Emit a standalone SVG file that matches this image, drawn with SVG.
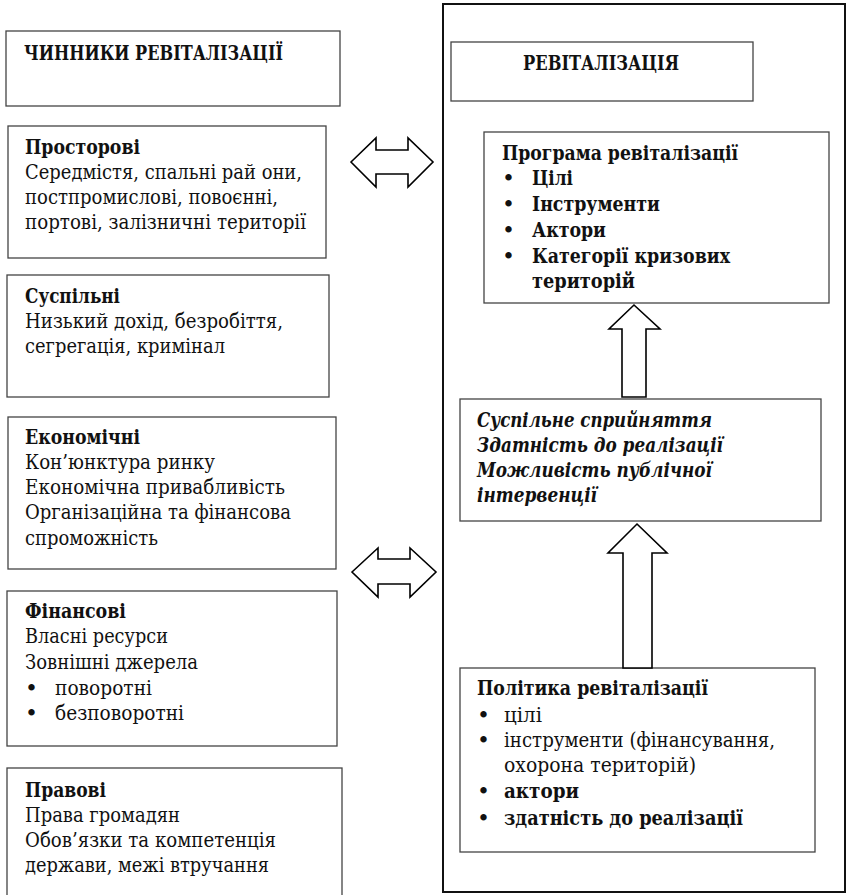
<svg xmlns="http://www.w3.org/2000/svg" width="847" height="895" viewBox="0 0 847 895">
<style>
.box{fill:#fff;stroke:#444;stroke-width:1.3}
.outer{fill:none;stroke:#111;stroke-width:2}
.arr{fill:#fff;stroke:#000;stroke-width:1.6;stroke-linejoin:miter}
text{font-family:"DejaVu Serif","Liberation Serif",serif;font-size:20px;fill:#111}
.b{font-weight:bold}
.bi{font-weight:bold;font-style:italic}
.bul{font-size:22px}
</style>
<rect width="847" height="895" fill="#fff"/>
<g id="revitalization-frame"><rect class="outer" x="443" y="4" width="402" height="888"/></g>
<g id="factors-title"><rect class="box" x="6" y="31" width="334" height="75"/>
<text class="b" x="24" y="60" textLength="259" lengthAdjust="spacingAndGlyphs">ЧИННИКИ РЕВІТАЛІЗАЦІЇ</text></g>
<g id="spatial"><rect class="box" x="8" y="126" width="318" height="132"/>
<text class="b" x="25" y="154" textLength="115" lengthAdjust="spacingAndGlyphs">Просторові</text>
<text x="25" y="179" textLength="277" lengthAdjust="spacingAndGlyphs">Середмістя, спальні рай они,</text>
<text x="25" y="204" textLength="253" lengthAdjust="spacingAndGlyphs">постпромислові, повоєнні,</text>
<text x="25" y="229" textLength="281" lengthAdjust="spacingAndGlyphs">портові, залізничні території</text></g>
<g id="social"><rect class="box" x="7" y="275" width="322" height="122"/>
<text class="b" x="25" y="303" textLength="95" lengthAdjust="spacingAndGlyphs">Суспільні</text>
<text x="25" y="328" textLength="258" lengthAdjust="spacingAndGlyphs">Низький дохід, безробіття,</text>
<text x="25" y="353" textLength="200" lengthAdjust="spacingAndGlyphs">сегрегація, кримінал</text></g>
<g id="economic"><rect class="box" x="8" y="417" width="328" height="152"/>
<text class="b" x="25" y="444" textLength="115" lengthAdjust="spacingAndGlyphs">Економічні</text>
<text x="25" y="469" textLength="190" lengthAdjust="spacingAndGlyphs">Кон’юнктура ринку</text>
<text x="25" y="494" textLength="260" lengthAdjust="spacingAndGlyphs">Економічна привабливість</text>
<text x="25" y="519" textLength="266" lengthAdjust="spacingAndGlyphs">Організаційна та фінансова</text>
<text x="25" y="545" textLength="133" lengthAdjust="spacingAndGlyphs">спроможність</text></g>
<g id="financial"><rect class="box" x="7" y="591" width="330" height="155"/>
<text class="b" x="25" y="618" textLength="101" lengthAdjust="spacingAndGlyphs">Фінансові</text>
<text x="25" y="643" textLength="143" lengthAdjust="spacingAndGlyphs">Власні ресурси</text>
<text x="25" y="669" textLength="173" lengthAdjust="spacingAndGlyphs">Зовнішні джерела</text>
<text class="bul" x="25" y="696">•</text><text x="55" y="695" textLength="97" lengthAdjust="spacingAndGlyphs">поворотні</text>
<text class="bul" x="25" y="721">•</text><text x="55" y="720" textLength="129" lengthAdjust="spacingAndGlyphs">безповоротні</text></g>
<g id="legal"><rect class="box" x="7" y="768" width="335" height="140"/>
<text class="b" x="25" y="797" textLength="81" lengthAdjust="spacingAndGlyphs">Правові</text>
<text x="25" y="822" textLength="155" lengthAdjust="spacingAndGlyphs">Права громадян</text>
<text x="25" y="847" textLength="251" lengthAdjust="spacingAndGlyphs">Обов’язки та компетенція</text>
<text x="25" y="872" textLength="244" lengthAdjust="spacingAndGlyphs">держави, межі втручання</text></g>
<g id="revitalization-title"><rect class="box" x="451" y="42" width="302" height="59"/>
<text class="b" x="523" y="70" textLength="156" lengthAdjust="spacingAndGlyphs">РЕВІТАЛІЗАЦІЯ</text></g>
<g id="program"><rect class="box" x="484" y="132" width="345" height="171"/>
<text class="b" x="502" y="160" textLength="236" lengthAdjust="spacingAndGlyphs">Програма ревіталізації</text>
<text class="bul" x="502" y="186">•</text><text class="b" x="532" y="185" textLength="41" lengthAdjust="spacingAndGlyphs">Цілі</text>
<text class="bul" x="502" y="212">•</text><text class="b" x="532" y="211" textLength="128" lengthAdjust="spacingAndGlyphs">Інструменти</text>
<text class="bul" x="502" y="238">•</text><text class="b" x="532" y="237" textLength="74" lengthAdjust="spacingAndGlyphs">Актори</text>
<text class="bul" x="502" y="264">•</text><text class="b" x="532" y="263" textLength="198" lengthAdjust="spacingAndGlyphs">Категорії кризових</text>
<text class="b" x="532" y="288" textLength="103" lengthAdjust="spacingAndGlyphs">територій</text></g>
<g id="conditions"><rect class="box" x="460" y="399" width="361" height="122"/>
<text class="bi" x="477" y="427" textLength="235" lengthAdjust="spacingAndGlyphs">Суспільне сприйняття</text>
<text class="bi" x="477" y="452" textLength="246" lengthAdjust="spacingAndGlyphs">Здатність до реалізації</text>
<text class="bi" x="477" y="477" textLength="235" lengthAdjust="spacingAndGlyphs">Можливість публічної</text>
<text class="bi" x="477" y="502" textLength="120" lengthAdjust="spacingAndGlyphs">інтервенції</text></g>
<g id="policy"><rect class="box" x="460" y="668" width="355" height="184"/>
<text class="b" x="477" y="695" textLength="231" lengthAdjust="spacingAndGlyphs">Політика ревіталізації</text>
<text class="bul" x="477" y="723">•</text><text x="504" y="722" textLength="38" lengthAdjust="spacingAndGlyphs">цілі</text>
<text class="bul" x="477" y="748">•</text><text x="504" y="747" textLength="271" lengthAdjust="spacingAndGlyphs">інструменти (фінансування,</text>
<text x="504" y="772" textLength="192" lengthAdjust="spacingAndGlyphs">охорона територій)</text>
<text class="bul" x="477" y="799">•</text><text class="b" x="504" y="798" textLength="75" lengthAdjust="spacingAndGlyphs">актори</text>
<text class="bul" x="477" y="826">•</text><text class="b" x="504" y="825" textLength="239" lengthAdjust="spacingAndGlyphs">здатність до реалізації</text></g>
<g id="connectors">
<polygon class="arr" points="351,162 376,138 376,150 408,150 408,138 433,162 408,187 408,174 376,174 376,187"/>
<polygon class="arr" points="352,572 378,548 378,559 410,559 410,548 436,572 410,597 410,584 378,584 378,597"/>
<polygon class="arr" points="634,305 660,329 646,329 646,397 622,397 622,329 609,329"/>
<polygon class="arr" points="637,524 667,553 652,553 652,668 623,668 623,553 608,553"/>
</g>
</svg>
